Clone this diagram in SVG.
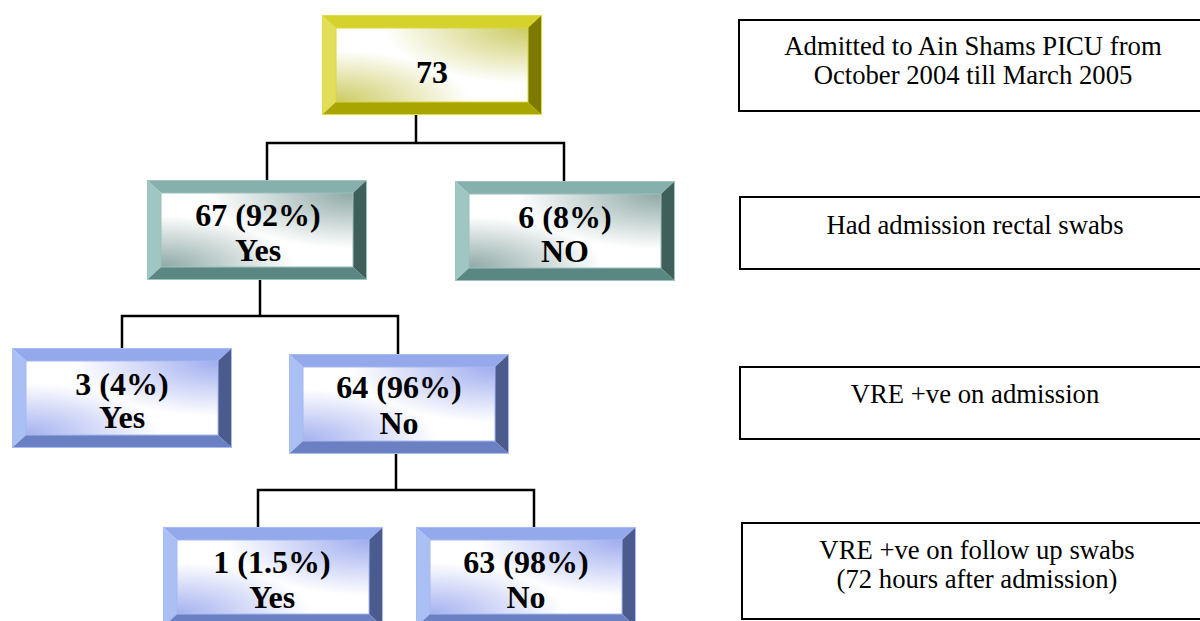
<svg xmlns="http://www.w3.org/2000/svg" xmlns:xlink="http://www.w3.org/1999/xlink" width="1200" height="621" viewBox="0 0 1200 621">
  <style>
    .lbl { font-family: "Liberation Serif", "Times New Roman", serif; font-weight: bold; font-size: 32px; fill: #000; text-anchor: middle; }
    .note { font-family: "Liberation Serif", "Times New Roman", serif; font-size: 26.7px; fill: #000; text-anchor: middle; }
    .nbox { fill: #fff; stroke: #000; stroke-width: 2; }
    .conn { stroke: #000; stroke-width: 2.5; fill: none; stroke-linecap: square; }
  </style>
  <defs>
    <radialGradient id="yTR" cx="1" cy="0" r="0.75"><stop offset="0" stop-color="#c9c85a" stop-opacity="0.95"/><stop offset="1" stop-color="#c9c85a" stop-opacity="0"/></radialGradient>
    <radialGradient id="yBL" cx="0" cy="1" r="0.7"><stop offset="0" stop-color="#c9c85a" stop-opacity="0.95"/><stop offset="1" stop-color="#c9c85a" stop-opacity="0"/></radialGradient>
    <radialGradient id="tTR" cx="1" cy="0" r="0.75"><stop offset="0" stop-color="#88a4a1" stop-opacity="0.95"/><stop offset="1" stop-color="#88a4a1" stop-opacity="0"/></radialGradient>
    <radialGradient id="tBL" cx="0" cy="1" r="0.7"><stop offset="0" stop-color="#88a4a1" stop-opacity="0.95"/><stop offset="1" stop-color="#88a4a1" stop-opacity="0"/></radialGradient>
    <radialGradient id="bTR" cx="1" cy="0" r="0.75"><stop offset="0" stop-color="#9aa8ee" stop-opacity="0.95"/><stop offset="1" stop-color="#9aa8ee" stop-opacity="0"/></radialGradient>
    <radialGradient id="bBL" cx="0" cy="1" r="0.7"><stop offset="0" stop-color="#9aa8ee" stop-opacity="0.9"/><stop offset="1" stop-color="#9aa8ee" stop-opacity="0"/></radialGradient>

    <symbol id="bevY" viewBox="0 0 220 100" width="220" height="100">
      <rect x="0" y="0" width="220" height="100" fill="#dcd83a"/>
      <polygon points="0,0 220,0 206,13 14,13" fill="#d6d22c"/>
      <polygon points="0,0 14,13 14,87 0,100" fill="#e2de5c"/>
      <polygon points="220,0 220,100 206,87 206,13" fill="#7c7a00"/>
      <polygon points="0,100 14,87 206,87 220,100" fill="#a9a500"/>
      <rect x="14" y="13" width="192" height="74" fill="#ffffff"/>
      <rect x="14" y="13" width="192" height="74" fill="url(#yTR)"/>
      <rect x="14" y="13" width="192" height="74" fill="url(#yBL)"/>
      <rect x="14" y="13" width="192" height="74" fill="none" stroke="#d8d640" stroke-width="1"/>
      <rect x="0.5" y="0.5" width="219" height="99" fill="none" stroke="#e0dc3c" stroke-width="1"/>
    </symbol>
    <symbol id="bevT" viewBox="0 0 220 100" width="220" height="100">
      <polygon points="0,0 220,0 206,13 14,13" fill="#86b0ac"/>
      <polygon points="0,0 14,13 14,87 0,100" fill="#a0c6c2"/>
      <polygon points="220,0 220,100 206,87 206,13" fill="#3f5f5b"/>
      <polygon points="0,100 14,87 206,87 220,100" fill="#5b8782"/>
      <rect x="14" y="13" width="192" height="74" fill="#ffffff"/>
      <rect x="14" y="13" width="192" height="74" fill="url(#tTR)"/>
      <rect x="14" y="13" width="192" height="74" fill="url(#tBL)"/>
      <rect x="14" y="13" width="192" height="74" fill="none" stroke="#9cc0bc" stroke-width="1"/>
      <rect x="0.5" y="0.5" width="219" height="99" fill="none" stroke="#9cc4c0" stroke-width="1"/>
    </symbol>
    <symbol id="bevB" viewBox="0 0 220 100" width="220" height="100">
      <polygon points="0,0 220,0 206,13 14,13" fill="#93a9ec"/>
      <polygon points="0,0 14,13 14,87 0,100" fill="#aabff4"/>
      <polygon points="220,0 220,100 206,87 206,13" fill="#4b5b8e"/>
      <polygon points="0,100 14,87 206,87 220,100" fill="#6a80c2"/>
      <rect x="14" y="13" width="192" height="74" fill="#ffffff"/>
      <rect x="14" y="13" width="192" height="74" fill="url(#bTR)"/>
      <rect x="14" y="13" width="192" height="74" fill="url(#bBL)"/>
      <rect x="14" y="13" width="192" height="74" fill="none" stroke="#a6b8f0" stroke-width="1"/>
      <rect x="0.5" y="0.5" width="219" height="99" fill="none" stroke="#a8bcf2" stroke-width="1"/>
    </symbol>
  </defs>

  <g id="connectors">
    <path class="conn" d="M416,116 V143 M267,143 H564 M267,143 V180 M564,143 V181"/>
    <path class="conn" d="M260,280 V316 M122,316 H398 M122,316 V348 M398,316 V354"/>
    <path class="conn" d="M396,454 V490 M258,490 H534 M258,490 V527 M534,490 V527"/>
  </g>

  <g id="n73">
    <use href="#bevY" x="322" y="15"/>
    <text class="lbl" x="432" y="83">73</text>
  </g>
  <g id="n67">
    <use href="#bevT" x="147" y="180"/>
    <text class="lbl" x="258" y="226">67 (92%)</text>
    <text class="lbl" x="258" y="261">Yes</text>
  </g>
  <g id="n6">
    <use href="#bevT" x="455" y="181"/>
    <text class="lbl" x="565" y="228">6 (8%)</text>
    <text class="lbl" x="565" y="262">NO</text>
  </g>
  <g id="n3">
    <use href="#bevB" x="12" y="348"/>
    <text class="lbl" x="122" y="395">3 (4%)</text>
    <text class="lbl" x="122" y="428">Yes</text>
  </g>
  <g id="n64">
    <use href="#bevB" x="289" y="354"/>
    <text class="lbl" x="399" y="398">64 (96%)</text>
    <text class="lbl" x="399" y="434">No</text>
  </g>
  <g id="n1">
    <use href="#bevB" x="163" y="527"/>
    <text class="lbl" x="272" y="573">1 (1.5%)</text>
    <text class="lbl" x="272" y="608">Yes</text>
  </g>
  <g id="n63">
    <use href="#bevB" x="416" y="527"/>
    <text class="lbl" x="526" y="573">63 (98%)</text>
    <text class="lbl" x="526" y="608">No</text>
  </g>

  <g id="noteAdmitted">
    <rect class="nbox" x="739" y="20" width="480" height="91"/>
    <text class="note" x="973" y="55">Admitted to Ain Shams PICU from</text>
    <text class="note" x="973" y="84">October 2004 till March 2005</text>
  </g>
  <g id="noteSwabs">
    <rect class="nbox" x="740" y="197" width="480" height="72"/>
    <text class="note" x="975" y="234">Had admission rectal swabs</text>
  </g>
  <g id="noteVRE">
    <rect class="nbox" x="740" y="367" width="480" height="72"/>
    <text class="note" x="975" y="403">VRE +ve on admission</text>
  </g>
  <g id="noteFollow">
    <rect class="nbox" x="742" y="523" width="480" height="96"/>
    <text class="note" x="977" y="559">VRE +ve on follow up swabs</text>
    <text class="note" x="977" y="588">(72 hours after admission)</text>
  </g>
</svg>
